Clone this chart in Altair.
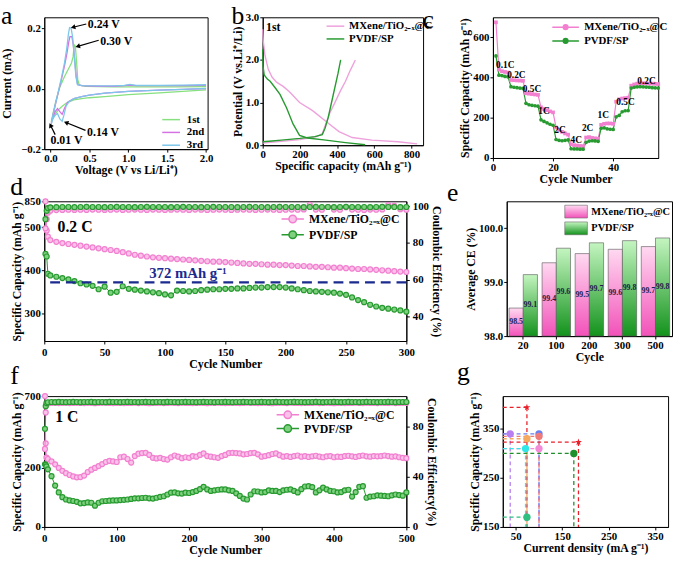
import math
import altair as alt
import pandas as pd

SERIF = "Liberation Serif"
PINK = "#f27fcf"
PINK_FILL = "#f9c2ea"
PINK_LINE = "#eea2dc"
GREEN = "#279a30"
GREEN_FILL = "#7fd07f"
NAVY = "#1b2a8e"
SERIES = ["MXene/TiO₂₋ₓ@C", "PVDF/SP"]

# ---------------- (a) cyclic voltammetry, three scans ----------------
CV_SCANS = ["1st", "2nd", "3rd"]
CV_COLORS = ["#86e07e", "#d472e4", "#7cc6ea"]
CV1_V = [2.0, 1.7, 1.4, 1.0, 0.7, 0.5, 0.4, 0.3, 0.2, 0.15, 0.1, 0.05, 0.01,
         0.03, 0.07, 0.12, 0.18, 0.23, 0.27, 0.29, 0.305, 0.32, 0.335, 0.35, 0.37,
         0.45, 0.8, 1.2, 1.6, 2.0]
CV1_I = [-0.004, -0.009, -0.014, -0.02, -0.026, -0.03, -0.033, -0.037, -0.048, -0.058, -0.07, -0.088, -0.11,
         -0.085, -0.04, 0.005, 0.04, 0.065, 0.085, 0.105, 0.145, 0.14, 0.09, 0.03, 0.012,
         0.008, 0.006, 0.006, 0.006, 0.007]
CV2_V = [2.0, 1.7, 1.4, 1.0, 0.7, 0.5, 0.4, 0.3, 0.22, 0.18, 0.15, 0.12, 0.09, 0.06, 0.03, 0.01,
         0.03, 0.06, 0.1, 0.14, 0.18, 0.21, 0.235, 0.25, 0.275, 0.29, 0.31, 0.33, 0.35,
         0.4, 0.6, 0.8, 0.95, 1.02, 1.1, 1.4, 1.7, 2.0]
CV2_I = [0.0, -0.002, -0.005, -0.009, -0.015, -0.021, -0.026, -0.033, -0.045, -0.065, -0.085, -0.076, -0.066, -0.076, -0.095, -0.115,
         -0.09, -0.055, -0.012, 0.03, 0.075, 0.115, 0.155, 0.172, 0.172, 0.15, 0.1, 0.04, 0.013,
         0.01, 0.008, 0.008, 0.01, 0.012, 0.01, 0.01, 0.01, 0.011]
CV3_V = [2.0, 1.7, 1.4, 1.0, 0.7, 0.5, 0.4, 0.3, 0.24, 0.2, 0.17, 0.15, 0.12, 0.09, 0.06, 0.03, 0.01,
         0.03, 0.06, 0.1, 0.14, 0.18, 0.21, 0.23, 0.245, 0.265, 0.285, 0.305, 0.325, 0.345,
         0.4, 0.6, 0.8, 0.95, 1.02, 1.1, 1.4, 1.7, 2.0]
CV3_I = [0.001, -0.002, -0.005, -0.009, -0.015, -0.021, -0.026, -0.033, -0.042, -0.058, -0.09, -0.108, -0.1, -0.082, -0.088, -0.1, -0.117,
         -0.09, -0.055, -0.01, 0.035, 0.085, 0.135, 0.18, 0.202, 0.2, 0.17, 0.11, 0.045, 0.014,
         0.01, 0.009, 0.009, 0.011, 0.014, 0.011, 0.011, 0.012, 0.013]

# peak call-outs: label, label position, arrow tail, arrow tip
PEAK_TEXT = ["0.24 V", "0.30 V", "0.14 V", "0.01 V"]
PEAK_TEXT_V = [0.48, 0.64, 0.47, 0.0]
PEAK_TEXT_I = [0.214, 0.157, -0.142, -0.17]
ARROW_V0 = [0.46, 0.62, 0.45, 0.06]
ARROW_I0 = [0.214, 0.16, -0.138, -0.152]
ARROW_V1 = [0.29, 0.35, 0.2, 0.0]
ARROW_I1 = [0.203, 0.14, -0.112, -0.121]

# ---------------- (b) first charge/discharge profiles ----------------
B_MX_DIS_CAP = [0, 3, 12, 30, 50, 74, 110, 145, 198, 268, 339, 410, 481, 587, 728, 830]
B_MX_DIS_V = [2.72, 2.45, 2.11, 1.78, 1.6, 1.48, 1.38, 1.25, 1.0, 0.81, 0.56, 0.32, 0.18, 0.12, 0.08, 0.03]
B_MX_CHG_CAP = [0, 100, 200, 290, 320, 339, 360, 388, 415, 445, 470, 498]
B_MX_CHG_V = [0.05, 0.09, 0.13, 0.2, 0.27, 0.5, 0.75, 1.0, 1.25, 1.5, 1.75, 2.0]
B_PV_DIS_CAP = [0, 2, 8, 25, 40, 70, 93, 128, 163, 198, 240, 339, 445, 551]
B_PV_DIS_V = [2.25, 1.85, 1.65, 1.55, 1.5, 1.33, 1.19, 0.88, 0.5, 0.23, 0.17, 0.12, 0.06, 0.01]
B_PV_CHG_CAP = [0, 50, 100, 200, 280, 320, 335, 352, 378, 405, 419]
B_PV_CHG_V = [0.08, 0.1, 0.12, 0.16, 0.2, 0.25, 0.4, 0.65, 1.16, 1.69, 2.0]

# ---------------- (c) rate capability ----------------
C_CYCLE = list(range(1, 56))
C_MX = [675, 440, 432, 428, 425,
        388, 387, 386, 385, 384,
        322, 320, 318, 316, 314,
        252, 244, 238, 232, 227,
        152, 140, 130, 122, 116,
        68, 64, 62, 60, 59,
        102, 104, 100, 98, 96,
        165, 170, 172, 172, 170,
        280, 292, 296, 298, 300,
        360, 366, 370, 372, 372, 371, 370, 370, 369, 368]
C_PV = [508, 412, 410, 406, 404,
        355, 352, 350, 348, 346,
        272, 265, 262, 260, 258,
        190, 182, 175, 168, 163,
        92, 88, 86, 88, 90,
        46, 45, 45, 44, 44,
        78, 84, 86, 85, 83,
        148, 150, 145, 143, 142,
        205, 212, 230, 235, 236,
        348, 352, 354, 355, 354, 353, 352, 350, 349, 348]
RATE_TEXT = ["0.1C", "0.2C", "0.5C", "1C", "2C", "4C", "2C", "1C", "0.5C", "0.2C"]
RATE_CYCLE = [4.1, 7.8, 13.0, 17.0, 22.3, 27.7, 31.5, 36.7, 44.1, 51.1]
RATE_CAP = [460, 413, 343, 236, 139, 87, 147, 212, 278, 383]

# ---------------- (d) cycling at 0.2 C ----------------
D_CYCLE = [1, 2, 3] + list(range(5, 301, 5))
D_MX_CAP = [850, 492, 478,
            470, 466, 463, 461, 459, 457, 455, 453, 451, 449,
            447, 445, 442, 439, 436, 434, 432, 430, 429, 428,
            427, 426, 425, 424, 423, 422, 421, 420, 420, 419,
            418, 417, 416, 415, 415, 414, 413, 413, 412, 412,
            411, 410, 410, 409, 408, 408, 407, 406, 406, 405,
            404, 403, 403, 402, 401, 400, 399, 398, 397, 396]
D_PV_CAP = [438, 432, 392,
            388, 385, 382, 379, 375, 370, 367, 364, 356, 362,
            348, 350, 363, 357, 355, 353, 351, 349, 347, 344,
            342, 353, 352, 351, 352, 354, 355, 356, 356, 357,
            357, 358, 358, 359, 360, 360, 361, 361, 361, 360,
            358, 356, 354, 352, 351, 350, 349, 348, 346, 343,
            337, 331, 326, 320, 316, 313, 311, 309, 307, 304]
D_MX_CE = [88.0, 93.0, 96.5,
           97.6, 97.9, 98.0, 98.1, 98.0, 98.1, 98.0, 98.2, 98.1, 98.0,
           98.1, 98.2, 98.0, 98.1, 98.2, 98.1, 98.0, 98.2, 98.1, 98.0,
           98.1, 98.2, 98.1, 98.0, 98.2, 98.1, 98.0, 98.1, 98.2, 98.1,
           98.0, 98.1, 98.2, 98.1, 98.0, 98.1, 98.2, 98.1, 98.0, 98.1,
           98.2, 98.1, 98.3, 100.8, 98.2, 98.1, 99.6, 98.2, 98.1, 99.4,
           98.2, 98.1, 98.0, 98.2, 98.1, 98.3, 100.6, 100.2, 98.4, 98.1]
D_PV_CE = [93.0, 97.5, 99.0,
           99.4, 99.5, 99.6, 99.6, 99.5, 99.6, 99.7, 99.6, 99.6, 99.5,
           99.6, 99.7, 99.6, 99.6, 99.5, 99.6, 99.7, 99.6, 99.6, 99.6,
           99.5, 99.6, 99.7, 99.6, 99.6, 99.5, 99.6, 99.7, 99.6, 99.6,
           99.6, 99.5, 99.6, 99.7, 99.6, 99.6, 99.5, 99.6, 99.7, 99.6,
           99.6, 99.6, 99.5, 99.6, 99.7, 99.6, 99.6, 99.5, 99.6, 99.7,
           99.6, 99.6, 99.6, 99.5, 99.6, 99.7, 99.6, 99.6, 99.5, 99.6]
REF_CAPACITY = 372

# ---------------- (e) average coulombic efficiency ----------------
E_CYCLES = ["20", "100", "200", "300", "500"]
E_MX = [98.52, 99.36, 99.53, 99.61, 99.66]
E_PV = [99.14, 99.63, 99.73, 99.77, 99.82]
E_BASE = 98.0

# ---------------- (f) cycling at 1 C ----------------
F_CYCLE = [1, 2, 3] + list(range(5, 501, 5))
F_MX_CAP = [700, 283, 235,
            230, 222, 212, 200, 190, 182, 176, 171, 168, 169,
            174, 186, 194, 200, 206, 213, 220, 224, 222, 220,
            236, 238, 230, 218, 240, 248, 250, 251, 244, 234,
            232, 234, 230, 228, 236, 242, 238, 233, 236, 234,
            240, 238, 244, 249, 240, 238, 236, 234, 240, 244,
            250, 251, 250, 249, 246, 247, 250, 251, 246, 238,
            240, 243, 247, 249, 243, 238, 240, 237, 240, 242,
            238, 240, 237, 239, 241, 238, 236, 239, 240, 236,
            238, 237, 240, 241, 239, 237, 240, 242, 239, 238,
            240, 239, 240, 242, 240, 238, 239, 236, 234, 233]
F_PV_CAP = [212, 210, 205,
            195, 172, 140, 117, 101, 93, 90, 88, 85, 80,
            81, 83, 82, 72, 82, 87, 88, 89, 90, 90,
            91, 92, 93, 95, 97, 97, 98, 99, 97, 96,
            99, 102, 104, 110, 116, 117, 114, 113, 116, 115,
            118, 122, 128, 136, 127, 122, 124, 126, 127, 127,
            124, 122, 114, 105, 96, 93, 110, 121, 120, 117,
            118, 124, 122, 122, 118, 124, 126, 127, 122, 117,
            128, 137, 138, 135, 117, 124, 133, 127, 122, 121,
            117, 118, 124, 126, 103, 118, 136, 138, 99, 103,
            104, 107, 106, 105, 104, 107, 110, 108, 106, 117]
F_MX_CE = [62.0, 91.0, 97.0,
           98.4, 98.6, 98.7, 98.5, 98.6, 98.8, 98.5, 98.6, 98.7, 98.6,
           98.5, 98.7, 98.6, 98.4, 98.6, 98.7, 98.8, 98.6, 98.5, 98.6,
           98.7, 98.5, 98.6, 98.6, 98.8, 98.5, 98.7, 98.6, 98.4, 98.6,
           98.6, 98.7, 98.5, 98.6, 98.8, 98.6, 98.5, 98.7, 98.6, 98.6,
           98.5, 98.6, 98.7, 98.6, 98.4, 98.7, 98.6, 98.8, 98.6, 98.5,
           98.6, 98.7, 98.6, 98.5, 98.6, 98.8, 98.7, 98.6, 98.5, 98.6,
           98.7, 98.6, 98.4, 98.6, 98.7, 98.6, 98.5, 98.8, 98.6, 98.6,
           98.5, 98.7, 98.6, 98.6, 98.8, 98.5, 98.6, 98.7, 98.6, 98.4,
           98.6, 98.7, 98.5, 98.6, 98.6, 98.8, 98.6, 98.5, 98.7, 98.6,
           98.6, 98.5, 98.7, 98.6, 98.6, 98.8, 98.5, 98.6, 98.7, 98.6]
F_PV_CE = [78.0, 96.0, 98.5,
           99.1, 99.3, 99.2, 99.4, 99.3, 99.2, 99.3, 99.4, 99.3, 99.2,
           99.3, 99.3, 99.4, 99.2, 99.3, 99.3, 99.2, 99.4, 99.3, 99.3,
           99.2, 99.3, 99.4, 99.3, 99.3, 99.2, 99.3, 99.4, 99.3, 99.2,
           99.3, 99.3, 99.2, 99.4, 99.3, 99.3, 99.2, 99.3, 99.4, 99.3,
           99.3, 99.2, 99.3, 99.4, 99.3, 99.3, 99.2, 99.3, 99.3, 99.4,
           99.3, 99.2, 99.3, 99.3, 99.4, 99.3, 99.2, 99.3, 99.3, 99.4,
           99.3, 99.2, 99.3, 99.4, 99.3, 99.3, 99.2, 99.3, 99.4, 99.3,
           99.3, 99.2, 99.3, 99.3, 99.4, 99.3, 99.2, 99.3, 99.3, 99.4,
           99.3, 99.2, 99.3, 99.4, 99.3, 99.3, 99.2, 99.3, 99.4, 99.3,
           99.3, 99.2, 99.3, 99.3, 99.4, 99.3, 99.2, 99.3, 99.3, 99.3]

# ---------------- (g) comparison with reported anodes ----------------
G_NAMES = ["This work", "KG", "PG", "EG30", "G@C", "G@TC", "AG@SPAPE",
           "TiO₂₋ₓ/graphite", "Al₂O₃@graphite"]
G_COLORS = ["#e8202a", "#f28ad8", "#b77ff0", "#6a80f0", "#1e8f2a", "#f5a860",
            "#2fbf80", "#30e6e6", "#f07a7a"]
G_SHAPES = ["M0,-1L0.235,-0.324L0.951,-0.309L0.38,0.124L0.588,0.809L0,0.4L-0.588,0.809L-0.38,0.124L-0.951,-0.309L-0.235,-0.324Z"] + ["circle"] * 8
G_POINT_NAME = ["This work", "This work", "KG", "PG", "EG30", "G@C", "G@TC", "AG@SPAPE",
                "TiO₂₋ₓ/graphite", "Al₂O₃@graphite"]
G_CURRENT = [74, 185, 100, 38, 100, 175, 74, 74, 71, 100]
G_CAPACITY = [394, 323, 310, 340, 340, 300, 330, 170, 310, 335]
G_X_DOMAIN = [22, 378]
G_Y_DOMAIN = [150, 417]

for a, b in [(CV1_V, CV1_I), (CV2_V, CV2_I), (CV3_V, CV3_I), (B_MX_DIS_CAP, B_MX_DIS_V),
             (B_MX_CHG_CAP, B_MX_CHG_V), (B_PV_DIS_CAP, B_PV_DIS_V), (B_PV_CHG_CAP, B_PV_CHG_V),
             (C_CYCLE, C_MX), (C_CYCLE, C_PV), (D_CYCLE, D_MX_CAP), (D_CYCLE, D_PV_CAP),
             (D_CYCLE, D_MX_CE), (D_CYCLE, D_PV_CE), (F_CYCLE, F_MX_CAP), (F_CYCLE, F_PV_CAP),
             (F_CYCLE, F_MX_CE), (F_CYCLE, F_PV_CE)]:
    assert len(a) == len(b), (len(a), len(b))

INDEPENDENT = dict(color="independent", shape="independent", fill="independent")
GLYPH_UNIT = 0.55  # pixels per path unit, relative to sqrt(symbolSize)


def line_marker_path(half, r):
    """Legend glyph: a short line through an open circle, in symbol units."""
    return (f"M{-half},0L{-r},0M{r},0L{half},0M{r},0"
            f"A{r},{r},0,1,1,{-r},0A{r},{r},0,1,1,{r},0Z")


def stroke_path(half):
    return f"M{-half},0L{half},0"


def letter(t, offset, dx=0):
    return alt.TitleParams(text=t, anchor="start", frame="bounds", font=SERIF,
                           fontSize=26, fontWeight="normal", color="black",
                           offset=offset, dx=dx)


def series_color(legend):
    return alt.Color("series:N", scale=alt.Scale(domain=SERIES, range=[PINK, GREEN]),
                     legend=legend)


def glyph_legend(x, y, path, half, font=12, row_pad=4, size=100, gap=3):
    # x is where the glyph starts; the glyph overhangs the symbol box on both sides
    box = math.sqrt(size)
    over = max(half * GLYPH_UNIT * box - box / 2, 0)
    return alt.Legend(orient="none", legendX=x + over, legendY=y, title=None, padding=0,
                      symbolType=path, symbolSize=size, symbolStrokeWidth=1.5,
                      labelFont=SERIF, labelFontWeight="bold", labelFontSize=font,
                      rowPadding=row_pad, labelOffset=over + gap)


# ---------------- panel a ----------------
cv_rows = []
for name, vs, cs in zip(CV_SCANS, [CV1_V, CV2_V, CV3_V], [CV1_I, CV2_I, CV3_I]):
    for k, (v, c) in enumerate(zip(vs, cs)):
        cv_rows.append({"scan": name, "k": k, "v": v, "i": c})
cv_df = pd.DataFrame(cv_rows)

AW, AH = 166, 134
ax_a = alt.X("v:Q", scale=alt.Scale(domain=[-0.08, 2.02], nice=False, zero=False),
             axis=alt.Axis(values=[0, 0.5, 1.0, 1.5, 2.0], format=".1f",
                           title="Voltage (V vs Li/Li⁺)"))
ay_a = alt.Y("i:Q", scale=alt.Scale(domain=[-0.2, 0.236], nice=False, zero=False),
             axis=alt.Axis(values=[-0.2, -0.1, 0.0, 0.1, 0.2], format=".1f",
                           title="Current (mA)", titlePadding=7))
cv_lines = alt.Chart(cv_df).mark_line(strokeWidth=1.3).encode(
    x=ax_a, y=ay_a,
    color=alt.Color("scan:N", scale=alt.Scale(domain=CV_SCANS, range=CV_COLORS),
                    legend=glyph_legend(118, 98, stroke_path(1.8), 1.8, font=11, row_pad=2,
                                        gap=5)),
    order="k:Q",
)

sx, sy = AW / 2.1, AH / 0.436
peak_df = pd.DataFrame({
    "text": PEAK_TEXT, "tv": PEAK_TEXT_V, "ti": PEAK_TEXT_I,
    "v0": ARROW_V0, "i0": ARROW_I0, "v1": ARROW_V1, "i1": ARROW_I1,
})
peak_df["ang"] = [
    (math.degrees(math.atan2((b1 - b0) * sx, (c1 - c0) * sy)) + 360) % 360
    for b0, b1, c0, c1 in zip(ARROW_V0, ARROW_V1, ARROW_I0, ARROW_I1)
]
arrow_shaft = alt.Chart(peak_df).mark_rule(color="black", strokeWidth=1.2).encode(
    x="v0:Q", x2="v1:Q", y="i0:Q", y2="i1:Q")
arrow_head = alt.Chart(peak_df).mark_point(shape="triangle-up", filled=True, color="black",
                                           size=28, opacity=1).encode(
    x="v1:Q", y="i1:Q", angle=alt.Angle("ang:Q", scale=None))
peak_text = alt.Chart(peak_df).mark_text(font=SERIF, fontWeight="bold", fontSize=12,
                                         align="left", baseline="middle").encode(
    x="tv:Q", y="ti:Q", text="text:N")
panel_a = alt.layer(cv_lines, arrow_shaft, arrow_head, peak_text).properties(
    width=AW, height=AH, title=letter("a", -11.5))

# ---------------- panel b ----------------
b_rows = []
for name, parts in [(SERIES[0], [(B_MX_DIS_CAP, B_MX_DIS_V), (B_MX_CHG_CAP, B_MX_CHG_V)]),
                    (SERIES[1], [(B_PV_DIS_CAP, B_PV_DIS_V), (B_PV_CHG_CAP, B_PV_CHG_V)])]:
    for part, (caps, vs) in enumerate(parts):
        for k, (q, v) in enumerate(zip(caps, vs)):
            b_rows.append({"series": name, "part": f"{name}-{part}", "k": k, "q": q, "v": v})
b_df = pd.DataFrame(b_rows)
b_lines = alt.Chart(b_df).mark_line(strokeWidth=1.4).encode(
    x=alt.X("q:Q", scale=alt.Scale(domain=[0, 862], nice=False),
            axis=alt.Axis(values=[0, 200, 400, 600, 800], title="Specific capacity (mAh g⁻¹)")),
    y=alt.Y("v:Q", scale=alt.Scale(domain=[0, 3.0], nice=False),
            axis=alt.Axis(values=[0, 0.5, 1.0, 1.5, 2.0, 2.5, 3.0], format=".1f",
                          title="Potential (V vs.Li⁺/Li)")),
    color=alt.Color("series:N", scale=alt.Scale(domain=SERIES, range=[PINK_LINE, GREEN]),
                    legend=glyph_legend(63, 3, stroke_path(1.8), 1.8, font=11, row_pad=2,
                                        gap=3)),
    detail="part:N", order="k:Q",
)
b_note = alt.Chart(pd.DataFrame({"q": [18], "v": [2.78], "t": ["1st"]})).mark_text(
    font=SERIF, fontWeight="bold", fontSize=12, align="left").encode(x="q:Q", y="v:Q", text="t:N")
panel_b = alt.layer(b_lines, b_note).properties(width=163, height=130,
                                                title=letter("b", -17.5))

# ---------------- panel c ----------------
c_df = pd.concat([
    pd.DataFrame({"series": SERIES[0], "cycle": C_CYCLE, "cap": C_MX}),
    pd.DataFrame({"series": SERIES[1], "cycle": C_CYCLE, "cap": C_PV}),
])
cx = alt.X("cycle:Q", scale=alt.Scale(domain=[0, 55], nice=False),
           axis=alt.Axis(values=[0, 10, 20, 30, 40, 50], title="Cycle Number"))
cy = alt.Y("cap:Q", scale=alt.Scale(domain=[0, 700], nice=False),
           axis=alt.Axis(values=[0, 100, 200, 300, 400, 500, 600, 700],
                         title="Specific Capacity (mAh g⁻¹)"))
c_line = alt.Chart(c_df).mark_line(strokeWidth=1.2).encode(
    x=cx, y=cy,
    color=series_color(glyph_legend(58, 4, line_marker_path(2.7, 0.47), 2.7, font=11,
                                    row_pad=2)))
c_sq = alt.Chart(c_df).transform_filter(alt.datum.series == SERIES[0]).mark_square(
    size=14, opacity=1).encode(x="cycle:Q", y="cap:Q", color=series_color(None))
c_ci = alt.Chart(c_df).transform_filter(alt.datum.series == SERIES[1]).mark_circle(
    size=14, opacity=1).encode(x="cycle:Q", y="cap:Q", color=series_color(None))
rate_df = pd.DataFrame({"t": RATE_TEXT, "cycle": RATE_CYCLE, "cap": RATE_CAP})
c_rates = alt.Chart(rate_df).mark_text(font=SERIF, fontWeight="bold", fontSize=9.5).encode(
    x="cycle:Q", y="cap:Q", text="t:N")
panel_c = alt.layer(c_line, c_sq, c_ci, c_rates).properties(width=168, height=143,
                                                            title=letter("c", -15.5, -37))


# ---------------- cycling panels d and f ----------------
def cycling_panel(cycles, mx_cap, pv_cap, mx_ce, pv_ce, width, height, cap_dom, cap_ticks,
                  cap_break, top_label, top_value, ce_dom, ce_ticks, ce_title, rate_text,
                  rate_pos, legend, ref_line):
    df = pd.concat([
        pd.DataFrame({"series": SERIES[0], "cycle": cycles, "cap": mx_cap, "ce": mx_ce}),
        pd.DataFrame({"series": SERIES[1], "cycle": cycles, "cap": pv_cap, "ce": pv_ce}),
    ])
    lo, hi, real_top = cap_break
    # compress the axis above the break so the first-cycle value stays on the panel
    df["cap_plot"] = [c if c <= lo else lo + (c - lo) * (hi - lo) / (real_top - lo)
                      for c in df["cap"]]
    xmax = cycles[-1]
    x = alt.X("cycle:Q", scale=alt.Scale(domain=[0, xmax], nice=False),
              axis=alt.Axis(tickCount=7 if xmax == 300 else 6, title="Cycle Number",
                            labelPadding=3))
    y_cap = alt.Y("cap_plot:Q", scale=alt.Scale(domain=cap_dom, nice=False, zero=False),
                  axis=alt.Axis(values=cap_ticks, title="Specific Capacity (mAh g⁻¹)",
                                labelExpr=f"datum.value == {top_value} ? '{top_label}' : datum.label"))
    fill = alt.Fill("series:N", scale=alt.Scale(domain=SERIES, range=[PINK_FILL, GREEN_FILL]),
                    legend=None)
    base = alt.Chart(df)
    cap_line = base.mark_line(strokeWidth=1).encode(x=x, y=y_cap, color=series_color(legend))
    cap_pts = base.mark_point(filled=False, size=26, strokeWidth=1.2, opacity=1).encode(
        x="cycle:Q", y="cap_plot:Q", color=series_color(None), fill=fill)
    left = [cap_line, cap_pts]
    if ref_line:
        ref_df = pd.DataFrame({"cap_plot": [REF_CAPACITY]})
        left.append(alt.Chart(ref_df).mark_rule(color=NAVY, strokeWidth=2.5,
                                                strokeDash=[10, 6]).encode(y="cap_plot:Q"))
        left.append(alt.Chart(pd.DataFrame({"cycle": [119], "cap_plot": [393],
                                            "t": [f"{REF_CAPACITY} mAh g⁻¹"]}))
                    .mark_text(font=SERIF, fontWeight="bold", fontSize=15, color=NAVY)
                    .encode(x="cycle:Q", y="cap_plot:Q", text="t:N"))
    left.append(alt.Chart(pd.DataFrame({"cycle": [rate_pos[0]], "cap_plot": [rate_pos[1]],
                                        "t": [rate_text]}))
                .mark_text(font=SERIF, fontWeight="bold", fontSize=16, align="left")
                .encode(x="cycle:Q", y="cap_plot:Q", text="t:N"))
    y_ce = alt.Y("ce:Q", scale=alt.Scale(domain=ce_dom, nice=False, zero=False),
                 axis=alt.Axis(orient="right", values=ce_ticks, title=ce_title,
                               labelPadding=3))
    ce_line = base.mark_line(strokeWidth=1).encode(x="cycle:Q", y=y_ce, color=series_color(None))
    ce_pts = base.mark_point(filled=False, size=26, strokeWidth=1.2, opacity=1).encode(
        x="cycle:Q", y="ce:Q", color=series_color(None), fill=fill)
    right = alt.layer(ce_line, ce_pts)
    return alt.layer(alt.layer(*left), right).resolve_scale(y="independent").properties(
        width=width, height=height)


CYCLE_GLYPH = line_marker_path(2.27, 0.76)
panel_d = cycling_panel(D_CYCLE, D_MX_CAP, D_PV_CAP, D_MX_CE, D_PV_CE, 368, 142,
                        [236, 560], [300, 400, 500, 560], (520, 560, 850), "850", 560,
                        [26.7, 102.7], [40, 60, 80, 100], "Coulombic Efficiency (%)",
                        "0.2 C", (11, 500),
                        glyph_legend(239, 12, CYCLE_GLYPH, 2.27, font=12, row_pad=2), True
                        ).properties(title=letter("d", -5))
panel_f = cycling_panel(F_CYCLE, F_MX_CAP, F_PV_CAP, F_MX_CE, F_PV_CE, 368, 133,
                        [0, 443], [0, 100, 200, 300, 443], (400, 443, 700), "700", 443,
                        [0, 104], [0, 20, 40, 60, 80, 100], "Coulombic Efficiency(%)",
                        "1 C", (15, 373),
                        glyph_legend(234, 13, CYCLE_GLYPH, 2.27, font=12, row_pad=0), False
                        ).properties(title=letter("f", 1.5))

# ---------------- panel e ----------------
PINK_GRAD = alt.Gradient(gradient="linear", x1=0, y1=0, x2=0, y2=1, stops=[
    alt.GradientStop(offset=0, color="#ffd9f1"), alt.GradientStop(offset=1, color="#f252b9")])
GREEN_GRAD = alt.Gradient(gradient="linear", x1=0, y1=0, x2=0, y2=1, stops=[
    alt.GradientStop(offset=0, color="#c4f5c0"), alt.GradientStop(offset=1, color="#13921c")])
e_df = pd.concat([
    pd.DataFrame({"series": SERIES[0], "cycle": E_CYCLES, "ce": E_MX}),
    pd.DataFrame({"series": SERIES[1], "cycle": E_CYCLES, "ce": E_PV}),
])
e_df["base"] = E_BASE
e_df["mid"] = (e_df["ce"] + E_BASE) / 2
ex = alt.X("cycle:N", sort=E_CYCLES,
           scale=alt.Scale(paddingInner=0.14, paddingOuter=0.07),
           axis=alt.Axis(labelAngle=0, title="Cycle", ticks=True))
exo = alt.XOffset("series:N", sort=SERIES, scale=alt.Scale(domain=SERIES))
ey = alt.Y("ce:Q", scale=alt.Scale(domain=[98.0, 100.5], nice=False, zero=False),
           axis=alt.Axis(values=[98.0, 98.5, 99.0, 99.5, 100.0, 100.5], format=".1f",
                         title="Average CE (%)"))
e_layers = []
for name, grad in zip(SERIES, [PINK_GRAD, GREEN_GRAD]):
    e_layers.append(
        alt.Chart(e_df).transform_filter(alt.datum.series == name)
        .mark_bar(color=grad, stroke="#555555", strokeWidth=0.6)
        .encode(x=ex, xOffset=exo, y=ey, y2="base:Q"))
# legend swatches share the bar gradients
for k, (name, grad) in enumerate(zip(SERIES, [PINK_GRAD, GREEN_GRAD])):
    e_layers.append(
        alt.Chart(pd.DataFrame({"t": [name]}))
        .mark_rect(color=grad, stroke="#666666", strokeWidth=0.6)
        .encode(x=alt.value(59), x2=alt.value(82), y=alt.value(4 + 17 * k),
                y2=alt.value(17 + 17 * k)))
    e_layers.append(
        alt.Chart(pd.DataFrame({"t": [name]}))
        .mark_text(font=SERIF, fontWeight="bold", fontSize=10.5, align="left", baseline="middle")
        .encode(x=alt.value(86), y=alt.value(10.5 + 17 * k), text="t:N"))
e_text = alt.Chart(e_df).mark_text(font=SERIF, fontWeight="bold", fontSize=8,
                                   color="#1d1d4a").encode(
    x=ex, xOffset=exo, y="mid:Q", text=alt.Text("ce:Q", format=".1f"))
panel_e = alt.layer(*e_layers, e_text).properties(width=168, height=137,
                                                  title=letter("e", -5, -18))

# ---------------- panel g ----------------
g_df = pd.DataFrame({"name": G_POINT_NAME, "cur": G_CURRENT, "cap": G_CAPACITY})
g_df["cur0"] = G_X_DOMAIN[0]
g_df["cap0"] = G_Y_DOMAIN[0]
gx = alt.X("cur:Q", scale=alt.Scale(domain=G_X_DOMAIN, nice=False, zero=False),
           axis=alt.Axis(values=[50, 100, 150, 200, 250, 300, 350],
                         title="Current density (mA g⁻¹)"))
gy = alt.Y("cap:Q", scale=alt.Scale(domain=G_Y_DOMAIN, nice=False, zero=False),
           axis=alt.Axis(values=[150, 200, 250, 300, 350, 400],
                         title="Specific Capacity (mAh g⁻¹)"))
g_color = alt.Color("name:N", scale=alt.Scale(domain=G_NAMES, range=G_COLORS), legend=None)
g_v = alt.Chart(g_df).mark_rule(strokeDash=[4, 3], strokeWidth=1.3).encode(
    x=gx, y=gy, y2="cap0:Q", color=g_color)
g_h = alt.Chart(g_df).mark_rule(strokeDash=[4, 3], strokeWidth=1.3).encode(
    x="cur0:Q", x2="cur:Q", y="cap:Q", color=g_color)
g_pts = alt.Chart(g_df).mark_point(filled=True, opacity=1, size=55).encode(
    x="cur:Q", y="cap:Q",
    color=alt.Color("name:N", scale=alt.Scale(domain=G_NAMES, range=G_COLORS),
                    legend=alt.Legend(orient="none", legendX=86, legendY=-1, title=None,
                                      padding=0, symbolSize=45, labelFont=SERIF,
                                      labelFontWeight="bold", labelFontSize=10,
                                      rowPadding=2.2, labelOffset=8)),
    shape=alt.Shape("name:N", scale=alt.Scale(domain=G_NAMES, range=G_SHAPES)),
)
panel_g = alt.layer(g_v, g_h, g_pts).properties(width=168, height=133,
                                                title=letter("g", 6.5, -12))

row1 = alt.hconcat(
    alt.hconcat(panel_a, panel_b, spacing=17).resolve_scale(**INDEPENDENT),
    panel_c, spacing=-12).resolve_scale(**INDEPENDENT)
row2 = alt.hconcat(panel_d, panel_e, spacing=3).resolve_scale(**INDEPENDENT)
row3 = alt.hconcat(panel_f, panel_g, spacing=18).resolve_scale(**INDEPENDENT)

chart = alt.vconcat(row1, row2, row3, spacing=-12).resolve_scale(**INDEPENDENT).properties(
    padding={"left": 0, "top": -2, "right": 0, "bottom": 0},
    background="white",
).configure_view(stroke="black", strokeWidth=1).configure_axis(
    labelFont=SERIF, labelFontWeight="bold", labelFontSize=11, labelColor="black",
    titleFont=SERIF, titleFontWeight="bold", titleFontSize=12, titleColor="black",
    domainColor="black", tickColor="black", tickSize=3, grid=False,
    labelPadding=1, titlePadding=1, labelOverlap=False, labelFlush=False,
)

chart.save("out.html", embed_options={"renderer": "svg", "actions": False})
